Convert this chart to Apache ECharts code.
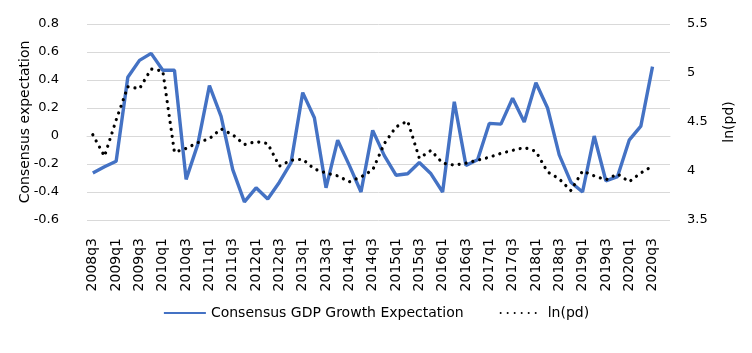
<!DOCTYPE html>
<html>
<head>
<meta charset="utf-8">
<script src="https://cdn.jsdelivr.net/npm/echarts@6/dist/echarts.min.js"></script>
<style>
  html, body { margin: 0; padding: 0; background: #fff; }
  #chart { width: 752px; height: 353px; }
</style>
</head>
<body>
<div id="chart"></div>
<script>
// quarters 2008q3 .. 2020q4 (last one left empty, as in the source chart)
const quarters = [
  '2008q3', '2008q4',
  '2009q1', '2009q2', '2009q3', '2009q4',
  '2010q1', '2010q2', '2010q3', '2010q4',
  '2011q1', '2011q2', '2011q3', '2011q4',
  '2012q1', '2012q2', '2012q3', '2012q4',
  '2013q1', '2013q2', '2013q3', '2013q4',
  '2014q1', '2014q2', '2014q3', '2014q4',
  '2015q1', '2015q2', '2015q3', '2015q4',
  '2016q1', '2016q2', '2016q3', '2016q4',
  '2017q1', '2017q2', '2017q3', '2017q4',
  '2018q1', '2018q2', '2018q3', '2018q4',
  '2019q1', '2019q2', '2019q3', '2019q4',
  '2020q1', '2020q2', '2020q3', '2020q4'
]

const gdpExpectation = [
  -0.265, -0.22,
  -0.18, 0.42, 0.54, 0.59,
  0.47, 0.47, -0.31, -0.06,
  0.36, 0.14, -0.24, -0.47,
  -0.37, -0.45, -0.33, -0.19,
  0.31, 0.13, -0.37, -0.03,
  -0.21, -0.40, 0.04, -0.14,
  -0.28, -0.27, -0.19, -0.27,
  -0.40, 0.245, -0.21, -0.17,
  0.09, 0.085, 0.27, 0.10,
  0.38, 0.20, -0.135, -0.33,
  -0.40, 0.0, -0.32, -0.29,
  -0.03, 0.07, 0.495, null
]

const lnPd = [
  4.37, 4.15,
  4.52, 4.86, 4.84, 5.04,
  5.02, 4.19, 4.23, 4.29,
  4.33, 4.43, 4.37, 4.27,
  4.30, 4.28, 4.05, 4.11,
  4.12, 4.02, 3.98, 3.95,
  3.89, 3.94, 4.01, 4.28,
  4.45, 4.51, 4.13, 4.21,
  4.08, 4.06, 4.08, 4.11,
  4.14, 4.18, 4.21, 4.24,
  4.20, 3.99, 3.92, 3.80,
  4.00, 3.95, 3.91, 3.97,
  3.89, 3.98, 4.05, null
]

const chart = echarts.init(document.getElementById('chart'))
const textFont = 'DejaVu Sans'

const option = {
  animation: false,
  grid: { left: 87, right: 82, top: 24, bottom: 133 },
  legend: {
    bottom: 28,
    left: 'center',
    itemWidth: 42,
    itemHeight: 6,
    itemGap: 36,
    itemStyle: { opacity: 0 },
    textStyle: { fontFamily: textFont, fontSize: 14, color: '#000' },
    data: ['Consensus GDP Growth Expectation', 'ln(pd)']
  },
  xAxis: {
    type: 'category',
    data: quarters,
    boundaryGap: true,
    axisLine: { lineStyle: { color: '#d9d9d9' } },
    axisTick: { show: false },
    axisLabel: {
      interval: 1,
      rotate: 90,
      margin: 18,
      fontFamily: textFont,
      fontSize: 14,
      color: '#000'
    }
  },
  yAxis: [
    {
      type: 'value',
      min: -0.6,
      max: 0.8,
      interval: 0.2,
      name: 'Consensus expectation',
      nameLocation: 'middle',
      nameGap: 55,
      nameRotate: 90,
      nameMoveOverlap: false,
      nameTextStyle: { fontFamily: textFont, fontSize: 14, color: '#000' },
      axisLine: { show: false },
      axisTick: { show: false },
      axisLabel: { fontFamily: textFont, fontSize: 13, color: '#000', margin: 28 },
      splitLine: { lineStyle: { color: '#d9d9d9' } }
    },
    {
      type: 'value',
      min: 3.5,
      max: 5.5,
      interval: 0.5,
      name: 'ln(pd)',
      nameLocation: 'middle',
      nameGap: 52,
      nameRotate: 90,
      nameMoveOverlap: false,
      nameTextStyle: { fontFamily: textFont, fontSize: 14, color: '#000' },
      axisLine: { show: false },
      axisTick: { show: false },
      axisLabel: { fontFamily: textFont, fontSize: 13, color: '#000', margin: 17 },
      splitLine: { show: false }
    }
  ],
  series: [
    {
      name: 'Consensus GDP Growth Expectation',
      type: 'line',
      yAxisIndex: 0,
      data: gdpExpectation,
      symbol: 'none',
      lineStyle: { color: '#4472c4', width: 3.4 },
      itemStyle: { color: '#4472c4' },
      z: 2
    },
    {
      name: 'ln(pd)',
      type: 'line',
      yAxisIndex: 1,
      data: lnPd,
      symbol: 'none',
      lineStyle: { color: '#000', width: 3.2, type: [0.01, 7], cap: 'round' },
      itemStyle: { color: '#000' },
      z: 3
    }
  ]
}

chart.setOption(option)
</script>
</body>
</html>
